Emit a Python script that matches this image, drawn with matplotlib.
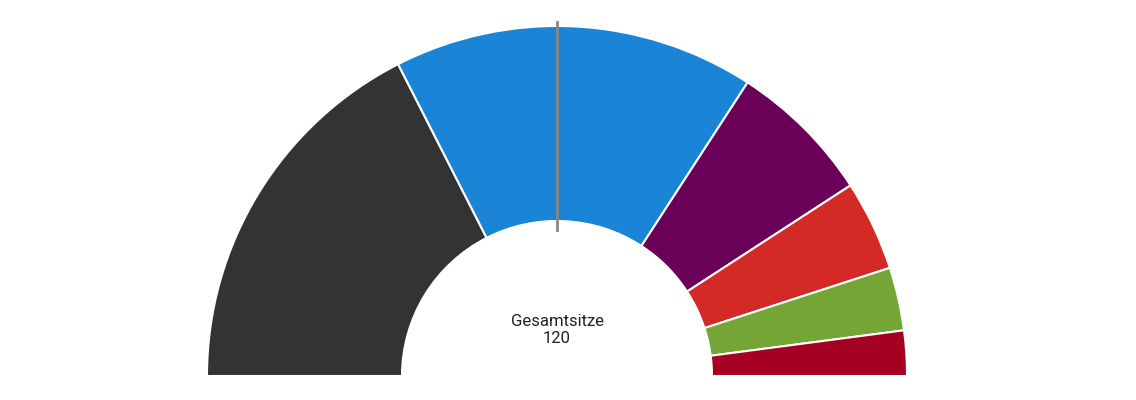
import matplotlib
matplotlib.use("Agg")
import matplotlib.pyplot as plt

parties = ["A", "B", "C", "D", "E", "F"]
seats = [42, 40, 16, 10, 7, 5]
colors = ["#333333", "#1a85d6", "#6b0058", "#d42a26", "#75a534", "#a50021"]
total = sum(seats)

fig = plt.figure(figsize=(11.36, 4.0), dpi=100)
ax = fig.add_axes([0, 0, 1, 1])
wedges, _ = ax.pie(seats + [total], radius=350, center=(557, 24), startangle=180,
                   counterclock=False, colors=colors + ["white"],
                   wedgeprops=dict(width=195, edgecolor="white", linewidth=1.5))
wedges[-1].set_visible(False)
ax.set_xlim(0, 1136)
ax.set_ylim(0, 400)
ax.set_aspect("equal")
ax.axis("off")
ax.plot([557, 557], [170, 378], color="#888888", lw=2)
ax.text(557, 70, f"Gesamtsitze\n{total}", ha="center", va="center", fontsize=12,
        family="Roboto", color="#222222", linespacing=1.2)
fig.savefig("out.png", dpi=100)
